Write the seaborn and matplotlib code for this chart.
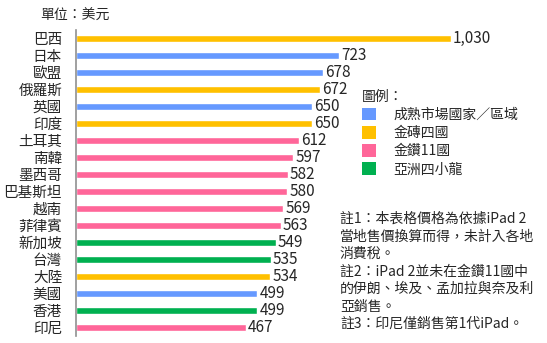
import matplotlib
matplotlib.use("Agg")
import matplotlib.pyplot as plt
from matplotlib.patches import Patch
import pandas as pd
import seaborn as sns

# iPad 2 retail prices by market (USD)
countries = ["巴西", "日本", "歐盟", "俄羅斯", "英國", "印度", "土耳其", "南韓", "墨西哥",
             "巴基斯坦", "越南", "菲律賓", "新加坡", "台灣", "大陸", "美國", "香港", "印尼"]
prices = [1030, 723, 678, 672, 650, 650, 612, 597, 582, 580, 569, 563, 549, 535, 534, 499, 499, 467]
groups = ["金磚四國", "成熟市場國家／區域", "成熟市場國家／區域", "金磚四國", "成熟市場國家／區域",
          "金磚四國", "金鑽11國", "金鑽11國", "金鑽11國", "金鑽11國", "金鑽11國", "金鑽11國",
          "亞洲四小龍", "亞洲四小龍", "金磚四國", "成熟市場國家／區域", "亞洲四小龍", "金鑽11國"]
group_names = ["成熟市場國家／區域", "金磚四國", "金鑽11國", "亞洲四小龍"]
group_colors = ["#6699FF", "#FFC000", "#FF6699", "#00B050"]

notes = ("註1：本表格價格為依據iPad 2\n當地售價換算而得，未計入各地\n消費稅。\n"
         "註2：iPad 2並未在金鑽11國中\n的伊朗、埃及、孟加拉與奈及利\n亞銷售。\n"
         "註3：印尼僅銷售第1代iPad。")

sns.set_style("white")
plt.rcParams["font.family"] = ["Noto Sans CJK TC", "DejaVu Sans"]

df = pd.DataFrame({"country": countries, "price": prices, "group": groups})

fig = plt.figure(figsize=(5.47, 3.43), dpi=100)
ax = fig.add_axes([76 / 547, 1 - 336 / 343, 400 / 547, 306 / 343])

sns.barplot(data=df, y="country", x="price", hue="group", hue_order=group_names,
            palette=dict(zip(group_names, group_colors)), dodge=False, width=0.45,
            saturation=1, legend=False, ax=ax, order=countries)

ax.set_xlim(0, 1100)
ax.set_ylim(len(countries) - 0.5, -0.5)
ax.set_xlabel("")
ax.set_ylabel("")
ax.set_xticks([])
for s in ["top", "right", "bottom"]:
    ax.spines[s].set_visible(False)
ax.spines["left"].set_color("#909090")
ax.spines["left"].set_linewidth(1.2)
ax.tick_params(axis="y", length=0, pad=10, labelsize=10.5)

for i, v in enumerate(prices):
    ax.text(v + 6, i, f"{v:,}", va="center", ha="left", fontsize=11)

fig.text(40 / 547, 1 - 16 / 343, "單位：美元", fontsize=10, va="center", ha="left")

handles = [Patch(facecolor=c, edgecolor="none") for c in group_colors]
fig.legend(handles, group_names, title="圖例：", loc="upper left",
           bbox_to_anchor=(352 / 547, 1 - 80 / 343), frameon=False,
           fontsize=10, title_fontsize=10, alignment="left",
           handlelength=1.0, handleheight=1.0, handletextpad=1.3,
           labelspacing=0.3, borderpad=0.2)

fig.text(340 / 547, 1 - 212 / 343, notes, fontsize=10, va="top", ha="left",
         linespacing=1.32)

fig.savefig("out.png", dpi=100)
